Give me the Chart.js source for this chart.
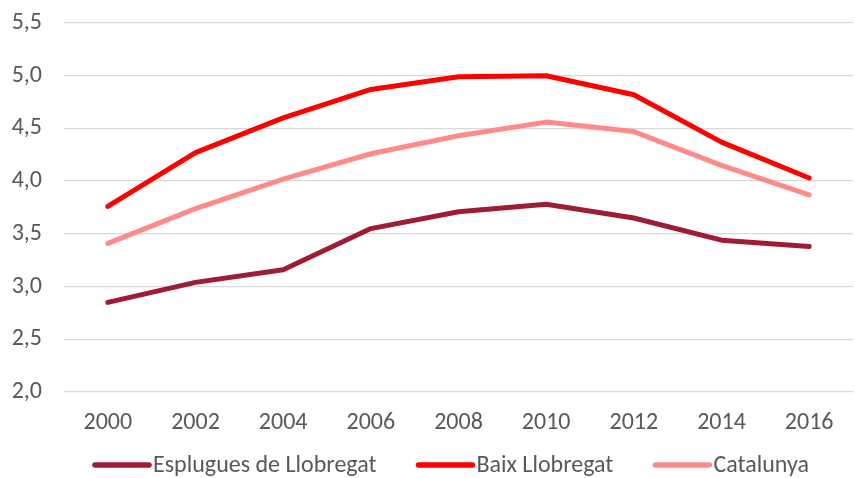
<!DOCTYPE html>
<html>
<head>
<meta charset="utf-8">
<script src="https://cdn.jsdelivr.net/npm/chart.js"></script>
<style>
  html, body { margin: 0; padding: 0; background: #fff; }
  #wrap { width: 855px; height: 478px; position: relative; }
</style>
</head>
<body>
<div id="wrap"><canvas id="myChart"></canvas></div>
<script>
const years = ['2000', '2002', '2004', '2006', '2008', '2010', '2012', '2014', '2016'];
const esplugues = [2.85, 3.04, 3.16, 3.55, 3.71, 3.78, 3.65, 3.44, 3.38];
const baix = [3.76, 4.27, 4.60, 4.87, 4.99, 5.00, 4.82, 4.37, 4.03];
const catalunya = [3.41, 3.74, 4.02, 4.26, 4.43, 4.56, 4.47, 4.15, 3.87];

const font = { family: "Carlito, 'Liberation Sans', sans-serif", size: 24 };
const textColor = '#595959';

function serie(label, data, color) {
  return {
    label: label,
    data: data,
    borderColor: color,
    backgroundColor: color,
    borderWidth: 5,
    pointRadius: 0,
    tension: 0,
    borderCapStyle: 'round',
    borderJoinStyle: 'round'
  };
}

// legend drawn under the axis, left of centre like the original
const lineLegend = {
  id: 'lineLegend',
  afterDraw(chart) {
    const ctx = chart.ctx;
    let x = 93;
    const y = 465;
    ctx.save();
    ctx.font = font.size + 'px ' + font.family;
    ctx.textBaseline = 'middle';
    ctx.textAlign = 'left';
    chart.data.datasets.forEach(ds => {
      ctx.strokeStyle = ds.borderColor;
      ctx.lineWidth = 5.5;
      ctx.lineCap = 'round';
      ctx.beginPath();
      ctx.moveTo(x + 2, y);
      ctx.lineTo(x + 56, y);
      ctx.stroke();
      ctx.fillStyle = textColor;
      ctx.fillText(ds.label, x + 60, y + 1);
      x += 60 + ctx.measureText(ds.label).width + 40;
    });
    ctx.restore();
  }
};

new Chart(document.getElementById('myChart'), {
  type: 'line',
  data: {
    labels: years,
    datasets: [
      serie('Esplugues de Llobregat', esplugues, '#a01c35'),
      serie('Baix Llobregat', baix, '#ff0000'),
      serie('Catalunya', catalunya, '#ff8a8a')
    ]
  },
  plugins: [lineLegend],
  options: {
    responsive: true,
    maintainAspectRatio: false,
    animation: false,
    layout: { padding: { top: 23, right: 2, left: 0, bottom: 0 } },
    plugins: {
      tooltip: { enabled: false },
      legend: { display: false }
    },
    scales: {
      x: {
        offset: true,
        grid: { display: false, drawTicks: false },
        border: { display: false },
        afterFit: function (s) { s.height = 86; },
        ticks: { color: textColor, font: font, padding: 17, maxRotation: 0 }
      },
      y: {
        min: 2,
        max: 5.5,
        grid: { color: '#d9d9d9', lineWidth: 1.3, drawTicks: false },
        border: { display: false },
        afterFit: function (s) { s.width = 64; s.paddingTop = 0; s.paddingBottom = 0; },
        ticks: {
          stepSize: 0.5,
          color: textColor,
          font: font,
          padding: 22,
          callback: function (v) { return v.toFixed(1).replace('.', ','); }
        }
      }
    }
  }
});
</script>
</body>
</html>
